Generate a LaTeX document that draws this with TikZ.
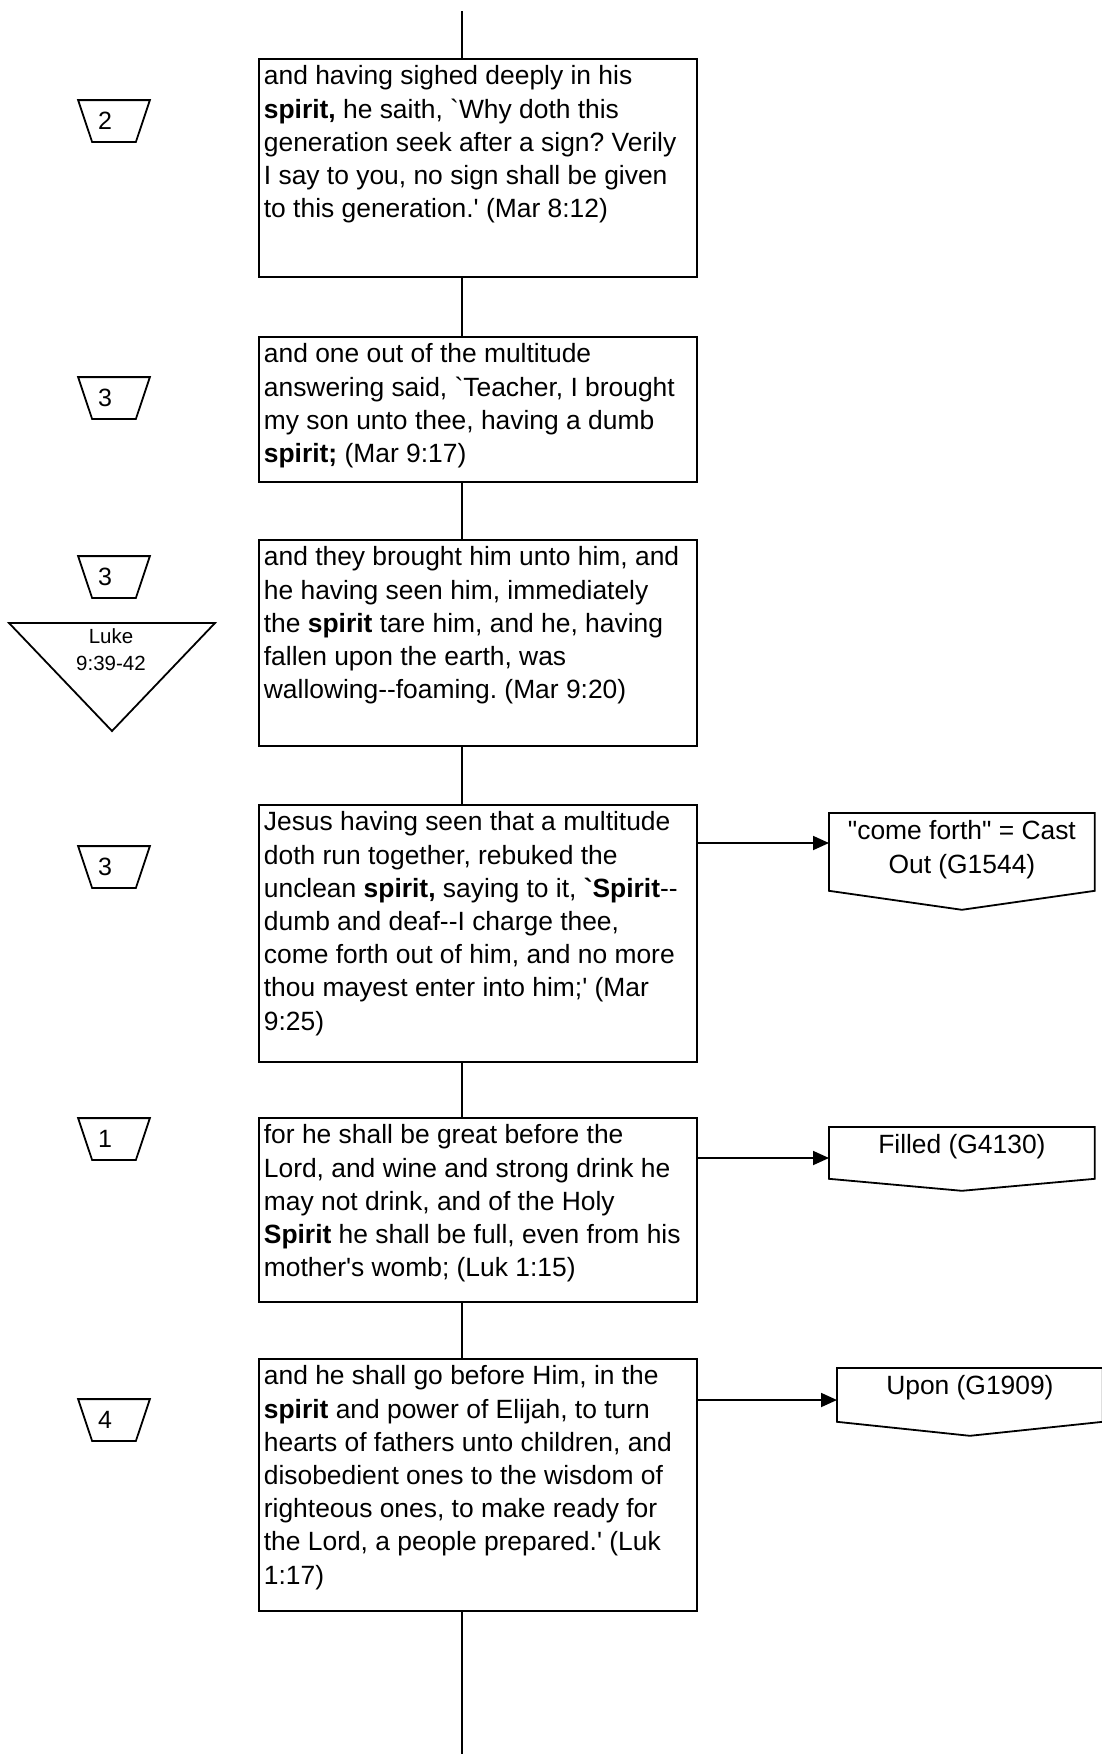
\documentclass[tikz,border=0pt]{standalone}
\usepackage{fontspec}
\setmainfont[Ligatures=TeXOff]{Liberation Sans}
\usetikzlibrary{arrows.meta}

\newcommand{\versebox}[2]{\parbox[c][#1][t]{428pt}{\raggedright\rule{0pt}{26pt}#2}}
\newcommand{\marktext}[2]{\parbox[c][#1][t]{264pt}{\centering\rule{0pt}{26pt}#2}}
\frenchspacing

\begin{document}
\begin{tikzpicture}[x=1pt,y=-1pt,line width=1.8pt,
  txt/.style={font=\fontsize{26.4}{33.2}\selectfont},
  verse/.style={txt,draw,inner xsep=5pt,inner ysep=0pt,anchor=north west},
  badge/.style={minimum width=70pt,minimum height=40pt,inner sep=0pt,
    font=\fontsize{25}{30}\selectfont},
  pointer/.style={txt,inner sep=0pt,anchor=north west},
  link/.style={-{Triangle[length=16pt,width=14pt]}}]

  \useasboundingbox (0,0) rectangle (1102,1754);

  \coordinate (top) at (462,11);
  \coordinate (bot) at (462,1754);

  % verses
  \node[verse] (V1) at (258,58) {\versebox{218pt}{and having sighed deeply in his\\
    \textbf{spirit,} he saith, `Why doth this\\
    generation seek after a sign? Verily\\
    I say to you, no sign shall be given\\
    to this generation.' (Mar 8:12)}};
  \node[verse] (V2) at (258,336) {\versebox{145pt}{and one out of the multitude\\
    answering said, `Teacher, I brought\\
    my son unto thee, having a dumb\\
    \textbf{spirit;} (Mar 9:17)}};
  \node[verse] (V3) at (258,539) {\versebox{206pt}{and they brought him unto him, and\\
    he having seen him, immediately\\
    the \textbf{spirit} tare him, and he, having\\
    fallen upon the earth, was\\
    wallowing--foaming. (Mar 9:20)}};
  \node[verse] (V4) at (258,804) {\versebox{257pt}{Jesus having seen that a multitude\\
    doth run together, rebuked the\\
    unclean \textbf{spirit,} saying to it, \textbf{`Spirit}--\\
    dumb and deaf--I charge thee,\\
    come forth out of him, and no more\\
    thou mayest enter into him;' (Mar\\
    9:25)}};
  \node[verse] (V5) at (258,1117) {\versebox{184pt}{for he shall be great before the\\
    Lord, and wine and strong drink he\\
    may not drink, and of the Holy\\
    \textbf{Spirit} he shall be full, even from his\\
    mother's womb; (Luk 1:15)}};
  \node[verse] (V6) at (258,1358) {\versebox{252pt}{and he shall go before Him, in the\\
    \textbf{spirit} and power of Elijah, to turn\\
    hearts of fathers unto children, and\\
    disobedient ones to the wisdom of\\
    righteous ones, to make ready for\\
    the Lord, a people prepared.' (Luk\\
    1:17)}};

  \draw (top) -- (V1.north -| top);
  \foreach \a/\b in {V1/V2,V2/V3,V3/V4,V4/V5,V5/V6}
    \draw (\a.south -| top) -- (\b.north -| top);
  \draw (V6.south -| top) -- (bot);

  % numbers on the left
  \node[badge] (N1) at (114,121) {\makebox[32pt][l]{2}};
  \node[badge] (N2) at (114,398) {\makebox[32pt][l]{3}};
  \node[badge] (N3) at (114,577) {\makebox[32pt][l]{3}};
  \node[badge] (N4) at (114,867) {\makebox[32pt][l]{3}};
  \node[badge] (N5) at (114,1139) {\makebox[32pt][l]{1}};
  \node[badge] (N6) at (114,1420) {\makebox[32pt][l]{4}};
  \foreach \n in {N1,N2,N3,N4,N5,N6}
    \draw (\n.north west) -- (\n.north east) -- ([xshift=-14pt]\n.south east)
      -- ([xshift=14pt]\n.south west) -- cycle;

  \node[font=\fontsize{20.5}{27}\selectfont,align=center] (L1) at (111,650) {Luke\\9:39-42};
  \draw (9,623) -- (215,623) -- (112,731) -- cycle;

  % words on the right
  \node[pointer] (T1) at (829,813) {\marktext{76pt}{"come forth" = Cast\\Out (G1544)}};
  \node[pointer] (T2) at (829,1127) {\marktext{50pt}{Filled (G4130)}};
  \node[pointer] (T3) at (837,1368) {\marktext{52pt}{Upon (G1909)}};
  \foreach \t/\d in {T1/19,T2/12,T3/14}
    \draw (\t.north west) -- (\t.north east) -- (\t.south east)
      -- ([yshift=-\d pt]\t.south) -- (\t.south west) -- cycle;

  \draw[link] (V4.east |- 0,843) -- (T1.west |- 0,843);
  \draw[link] (V5.east |- 0,1158) -- (T2.west |- 0,1158);
  \draw[link] (V6.east |- 0,1400) -- (T3.west |- 0,1400);

\end{tikzpicture}
\end{document}
